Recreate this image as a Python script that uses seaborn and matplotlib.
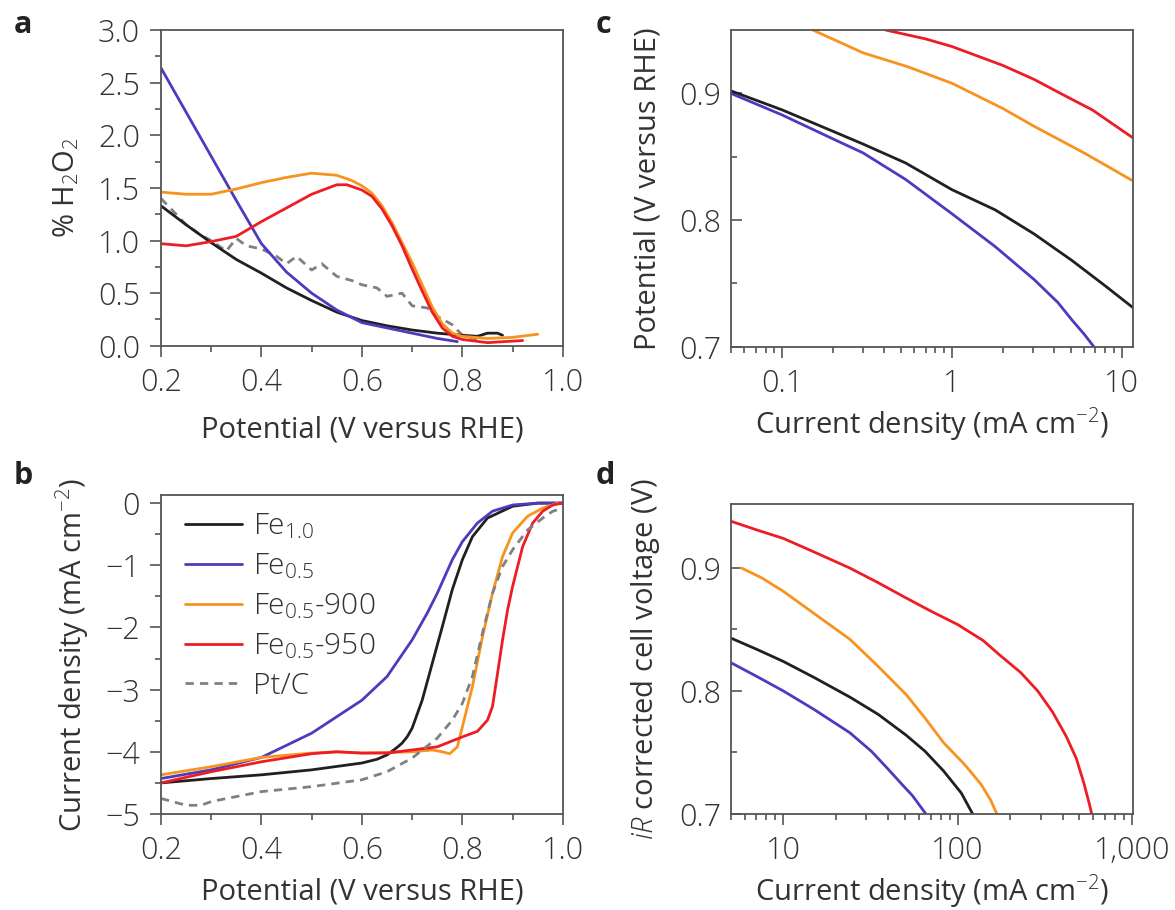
import matplotlib
matplotlib.use("Agg")
import matplotlib.pyplot as plt
from matplotlib.ticker import LogLocator, NullFormatter, MultipleLocator, FixedLocator
import seaborn as sns

sns.set_theme(style="ticks")
plt.rcParams['font.family'] = ['Open Sans', 'DejaVu Sans']
plt.rcParams['font.weight'] = 'light'
plt.rcParams['mathtext.fontset'] = 'custom'
plt.rcParams['mathtext.rm'] = 'Open Sans:light'
plt.rcParams['mathtext.it'] = 'Open Sans:italic:light'
plt.rcParams['mathtext.bf'] = 'Open Sans:bold'

TXT = '#333333'
SPINE = '#555555'
BLACK = '#231f20'
BLUE = '#4b3bbf'
ORANGE = '#f7931e'
RED = '#ee1c25'
GRAY = '#808080'

# ---- panel a : % H2O2 vs potential
a_fe10_x = [0.20, 0.25, 0.30, 0.35, 0.40, 0.45, 0.50, 0.55, 0.60, 0.65, 0.70, 0.75, 0.80, 0.83, 0.85, 0.87, 0.88]
a_fe10_y = [1.33, 1.15, 0.98, 0.82, 0.69, 0.55, 0.43, 0.32, 0.24, 0.19, 0.15, 0.12, 0.10, 0.09, 0.12, 0.12, 0.10]
a_fe05_x = [0.20, 0.25, 0.30, 0.35, 0.40, 0.45, 0.50, 0.55, 0.60, 0.65, 0.70, 0.75, 0.79]
a_fe05_y = [2.64, 2.22, 1.80, 1.38, 0.97, 0.70, 0.50, 0.34, 0.22, 0.17, 0.12, 0.07, 0.04]
a_900_x = [0.20, 0.25, 0.30, 0.35, 0.40, 0.45, 0.50, 0.55, 0.58, 0.60, 0.62, 0.64, 0.66, 0.68, 0.70,
           0.72, 0.74, 0.76, 0.78, 0.80, 0.85, 0.90, 0.95]
a_900_y = [1.46, 1.44, 1.44, 1.49, 1.55, 1.60, 1.64, 1.62, 1.57, 1.52, 1.45, 1.33, 1.17, 0.98, 0.79,
           0.58, 0.37, 0.21, 0.12, 0.09, 0.07, 0.08, 0.11]
a_950_x = [0.20, 0.25, 0.30, 0.35, 0.40, 0.45, 0.50, 0.55, 0.57, 0.60, 0.62, 0.64, 0.66, 0.68, 0.70,
           0.72, 0.74, 0.76, 0.78, 0.80, 0.85, 0.92]
a_950_y = [0.97, 0.95, 0.99, 1.04, 1.18, 1.31, 1.44, 1.53, 1.53, 1.48, 1.42, 1.30, 1.14, 0.95, 0.73,
           0.52, 0.32, 0.17, 0.09, 0.06, 0.03, 0.05]
a_pt_x = [0.20, 0.22, 0.25, 0.28, 0.30, 0.33, 0.35, 0.37, 0.40, 0.43, 0.45, 0.47, 0.50, 0.52, 0.55,
          0.58, 0.60, 0.63, 0.65, 0.68, 0.70, 0.73, 0.75, 0.78, 0.80, 0.83]
a_pt_y = [1.40, 1.30, 1.15, 1.05, 1.00, 0.90, 1.02, 0.95, 0.92, 0.85, 0.78, 0.85, 0.72, 0.78, 0.66,
          0.62, 0.58, 0.55, 0.47, 0.50, 0.38, 0.36, 0.28, 0.20, 0.10, 0.06]

# ---- panel b : current density vs potential
b_fe10_x = [0.20, 0.30, 0.40, 0.50, 0.60, 0.63, 0.65, 0.67, 0.68, 0.69, 0.70, 0.72, 0.74, 0.76, 0.78,
            0.80, 0.82, 0.85, 0.90, 0.95, 1.00]
b_fe10_y = [-4.50, -4.43, -4.37, -4.29, -4.18, -4.12, -4.05, -3.93, -3.86, -3.76, -3.62, -3.17, -2.58,
            -1.99, -1.39, -0.91, -0.54, -0.24, -0.05, 0.0, 0.0]
b_fe05_x = [0.20, 0.30, 0.40, 0.50, 0.60, 0.65, 0.70, 0.73, 0.75, 0.78, 0.80, 0.83, 0.86, 0.90, 0.95, 1.00]
b_fe05_y = [-4.43, -4.29, -4.09, -3.70, -3.17, -2.79, -2.20, -1.77, -1.45, -0.91, -0.62, -0.32, -0.13, -0.03, 0.0, 0.0]
b_900_x = [0.20, 0.30, 0.40, 0.50, 0.55, 0.60, 0.70, 0.74, 0.76, 0.775, 0.79, 0.80, 0.82, 0.84, 0.86,
           0.88, 0.90, 0.93, 0.96, 0.99]
b_900_y = [-4.37, -4.24, -4.09, -4.02, -4.00, -4.02, -4.00, -3.97, -4.00, -4.03, -3.92, -3.60, -2.95,
           -2.15, -1.45, -0.86, -0.48, -0.21, -0.08, 0.0]
b_950_x = [0.20, 0.30, 0.40, 0.50, 0.55, 0.60, 0.65, 0.70, 0.75, 0.80, 0.83, 0.85, 0.86, 0.87, 0.88,
           0.89, 0.90, 0.92, 0.94, 0.96, 0.98, 1.00]
b_950_y = [-4.50, -4.32, -4.16, -4.03, -4.00, -4.02, -4.02, -3.97, -3.92, -3.76, -3.67, -3.49, -3.27,
           -2.74, -2.20, -1.72, -1.34, -0.70, -0.32, -0.13, -0.03, 0.0]
b_pt_x = [0.20, 0.25, 0.28, 0.30, 0.40, 0.50, 0.60, 0.65, 0.70, 0.75, 0.78, 0.80, 0.82, 0.84, 0.86,
          0.88, 0.90, 0.93, 0.96, 0.98, 1.00]
b_pt_y = [-4.75, -4.86, -4.86, -4.80, -4.64, -4.56, -4.45, -4.32, -4.10, -3.78, -3.49, -3.22, -2.79,
          -2.09, -1.45, -1.02, -0.75, -0.43, -0.24, -0.13, -0.08]

# ---- panel c : Tafel-type plot
c_fe10_x = [0.05, 0.1, 0.2, 0.3, 0.535, 1.0, 1.8, 3.05, 5.1, 8.0, 11.6]
c_fe10_y = [0.902, 0.887, 0.870, 0.860, 0.845, 0.824, 0.808, 0.789, 0.768, 0.748, 0.731]
c_fe05_x = [0.05, 0.1, 0.2, 0.3, 0.535, 1.0, 1.8, 3.05, 4.2, 5.1, 6.0, 6.85]
c_fe05_y = [0.900, 0.883, 0.864, 0.853, 0.832, 0.805, 0.779, 0.753, 0.735, 0.721, 0.710, 0.700]
c_900_x = [0.152, 0.3, 0.55, 1.0, 2.0, 3.05, 6.0, 11.6]
c_900_y = [0.950, 0.932, 0.921, 0.908, 0.888, 0.874, 0.853, 0.831]
c_950_x = [0.408, 0.7, 1.0, 2.0, 3.05, 4.5, 6.7, 11.6]
c_950_y = [0.950, 0.943, 0.937, 0.922, 0.911, 0.899, 0.887, 0.865]

# ---- panel d : fuel-cell polarization
d_950_x = [5.0, 7, 10, 15, 24, 35, 50, 70, 100, 140, 175, 230, 288, 350, 420, 480, 530, 570, 588]
d_950_y = [0.938, 0.931, 0.924, 0.913, 0.900, 0.888, 0.876, 0.865, 0.854, 0.841, 0.829, 0.815,
           0.800, 0.783, 0.763, 0.745, 0.725, 0.708, 0.700]
d_900_x = [5.74, 7.5, 10, 15, 24.1, 35, 50.7, 65, 83, 110, 136.5, 155, 168]
d_900_y = [0.900, 0.892, 0.881, 0.863, 0.842, 0.820, 0.797, 0.778, 0.758, 0.740, 0.724, 0.711, 0.700]
d_fe10_x = [5.0, 7, 10, 15, 24.1, 35, 50.7, 65, 83, 105, 122]
d_fe10_y = [0.843, 0.834, 0.824, 0.811, 0.795, 0.781, 0.764, 0.751, 0.735, 0.717, 0.700]
d_fe05_x = [5.0, 7, 10, 15, 24.1, 32, 39.6, 48, 55, 65.8]
d_fe05_y = [0.823, 0.812, 0.800, 0.785, 0.766, 0.751, 0.737, 0.724, 0.715, 0.700]

labels = ['Fe$_{1.0}$', 'Fe$_{0.5}$', 'Fe$_{0.5}$-900', 'Fe$_{0.5}$-950', 'Pt/C']

fig = plt.figure(figsize=(11.75, 9.10), dpi=100)
ax_a = fig.add_axes([0.137, 0.620, 0.342, 0.347])
ax_b = fig.add_axes([0.137, 0.1055, 0.342, 0.3505])
ax_c = fig.add_axes([0.622, 0.619, 0.342, 0.348])
ax_d = fig.add_axes([0.622, 0.1055, 0.342, 0.3407])

LW = 2.0
DASH = (0, (3.0, 2.2))


def draw(ax, x, y, color, label=None, ls='-'):
    sns.lineplot(x=x, y=y, ax=ax, color=color, lw=LW, linestyle=ls,
                 sort=False, estimator=None, label=label, legend=label is not None)


# a
draw(ax_a, a_pt_x, a_pt_y, GRAY, ls=DASH)
draw(ax_a, a_fe10_x, a_fe10_y, BLACK)
draw(ax_a, a_fe05_x, a_fe05_y, BLUE)
draw(ax_a, a_900_x, a_900_y, ORANGE)
draw(ax_a, a_950_x, a_950_y, RED)

# b
draw(ax_b, b_fe10_x, b_fe10_y, BLACK, labels[0])
draw(ax_b, b_fe05_x, b_fe05_y, BLUE, labels[1])
draw(ax_b, b_900_x, b_900_y, ORANGE, labels[2])
draw(ax_b, b_950_x, b_950_y, RED, labels[3])
draw(ax_b, b_pt_x, b_pt_y, GRAY, labels[4], ls=DASH)

# c
draw(ax_c, c_950_x, c_950_y, RED)
draw(ax_c, c_900_x, c_900_y, ORANGE)
draw(ax_c, c_fe05_x, c_fe05_y, BLUE)
draw(ax_c, c_fe10_x, c_fe10_y, BLACK)

# d
draw(ax_d, d_950_x, d_950_y, RED)
draw(ax_d, d_900_x, d_900_y, ORANGE)
draw(ax_d, d_fe10_x, d_fe10_y, BLACK)
draw(ax_d, d_fe05_x, d_fe05_y, BLUE)

TICK_FS = 22
LAB_FS = 21

for ax in (ax_a, ax_b, ax_c, ax_d):
    for s in ax.spines.values():
        s.set_visible(True)
        s.set_color(SPINE)
        s.set_linewidth(1.3)
    ax.tick_params(which='both', colors=SPINE, labelcolor=TXT, labelsize=TICK_FS, width=1.2,
                   top=False, right=False, pad=7)
    ax.tick_params(which='major', length=8)
    ax.tick_params(which='minor', length=4.5)

# a axes
ax_a.set_xlim(0.2, 1.0)
ax_a.set_ylim(0, 3.0)
ax_a.set_xticks([0.2, 0.4, 0.6, 0.8, 1.0], labels=['0.2', '0.4', '0.6', '0.8', '1.0'])
ax_a.xaxis.set_minor_locator(MultipleLocator(0.1))
ax_a.set_yticks([0, 0.5, 1.0, 1.5, 2.0, 2.5, 3.0], labels=['0.0', '0.5', '1.0', '1.5', '2.0', '2.5', '3.0'])
ax_a.yaxis.set_minor_locator(MultipleLocator(0.25))
ax_a.tick_params(which='both', direction='out')
ax_a.set_xlabel('Potential (V versus RHE)', fontsize=LAB_FS, color=TXT, labelpad=12)
ax_a.set_ylabel('% H$_2$O$_2$', fontsize=LAB_FS, color=TXT, labelpad=12)

# b axes
ax_b.set_xlim(0.2, 1.0)
ax_b.set_ylim(-5, 0.13)
ax_b.set_xticks([0.2, 0.4, 0.6, 0.8, 1.0], labels=['0.2', '0.4', '0.6', '0.8', '1.0'])
ax_b.xaxis.set_minor_locator(MultipleLocator(0.1))
ax_b.set_yticks([0, -1, -2, -3, -4, -5], labels=['0', '\u22121', '\u22122', '\u22123', '\u22124', '\u22125'])
ax_b.yaxis.set_minor_locator(MultipleLocator(0.5))
ax_b.tick_params(which='both', direction='out')
ax_b.set_xlabel('Potential (V versus RHE)', fontsize=LAB_FS, color=TXT, labelpad=8)
ax_b.set_ylabel('Current density (mA cm$^{\u22122}$)', fontsize=LAB_FS, color=TXT, labelpad=10)
leg = ax_b.legend(loc='upper left', frameon=False, fontsize=21.5, handlelength=1.9,
                  labelspacing=0.34, borderaxespad=0.15, handletextpad=0.35,
                  bbox_to_anchor=(0.02, 1.0))
for t in leg.get_texts():
    t.set_color(TXT)

# c axes
ax_c.set_xscale('log')
ax_c.set_xlim(0.05, 11.6)
ax_c.set_ylim(0.7, 0.95)
ax_c.set_xticks([0.1, 1, 10], labels=['0.1', '1', '10'])
ax_c.xaxis.set_minor_locator(LogLocator(base=10, subs=range(2, 10)))
ax_c.xaxis.set_minor_formatter(NullFormatter())
ax_c.set_yticks([0.7, 0.8, 0.9], labels=['0.7', '0.8', '0.9'])
ax_c.yaxis.set_minor_locator(FixedLocator([0.75, 0.85]))
ax_c.tick_params(axis='x', which='both', direction='out')
ax_c.tick_params(axis='y', which='both', direction='in')
ax_c.set_xlabel('Current density (mA cm$^{\u22122}$)', fontsize=LAB_FS, color=TXT, labelpad=4)
ax_c.set_ylabel('Potential (V versus RHE)', fontsize=LAB_FS, color=TXT, labelpad=12)

# d axes
ax_d.set_xscale('log')
ax_d.set_xlim(5, 1010)
ax_d.set_ylim(0.7, 0.952)
ax_d.set_xticks([10, 100, 1000], labels=['10', '100', '1,000'])
ax_d.xaxis.set_minor_locator(LogLocator(base=10, subs=range(2, 10)))
ax_d.xaxis.set_minor_formatter(NullFormatter())
ax_d.set_yticks([0.7, 0.8, 0.9], labels=['0.7', '0.8', '0.9'])
ax_d.yaxis.set_minor_locator(FixedLocator([0.75, 0.85]))
ax_d.tick_params(axis='x', which='both', direction='out')
ax_d.tick_params(axis='y', which='both', direction='in')
ax_d.set_xlabel('Current density (mA cm$^{\u22122}$)', fontsize=LAB_FS, color=TXT, labelpad=4)
ax_d.set_ylabel('$\\mathit{iR}$ corrected cell voltage (V)', fontsize=LAB_FS, color=TXT, labelpad=12)

for letter, (fx, fy) in zip('abcd', [(0.012, 0.972), (0.012, 0.477), (0.507, 0.972), (0.507, 0.477)]):
    fig.text(fx, fy, letter, fontsize=22, fontweight='bold', color='#222222', va='center')

fig.savefig('out.png', dpi=100)
